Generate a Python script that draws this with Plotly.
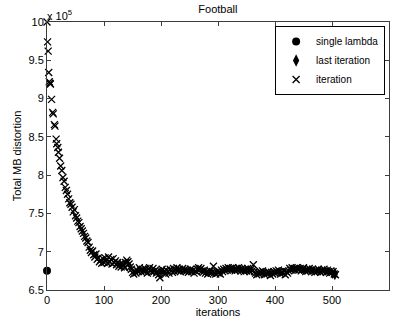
import plotly.graph_objects as go

# ---- data (distortion in units of 1e5) ----
early_iter = [0, 1, 2, 3, 4, 5, 6, 8, 10, 11, 13, 14, 16, 17, 19, 20]
early_val = [10.0, 9.74, 9.62, 9.34, 9.22, 9.20, 9.19, 8.99, 8.82, 8.80,
             8.66, 8.64, 8.47, 8.41, 8.36, 8.30]

main_iter = list(range(22, 507, 2))
main_val = [
    8.22, 8.12, 8.06, 7.97, 7.92, 7.84, 7.80, 7.75, 7.69, 7.64,
    7.62, 7.58, 7.52, 7.55, 7.47, 7.44, 7.40, 7.38, 7.33, 7.30,
    7.27, 7.24, 7.20, 7.18, 7.14, 7.12, 7.06, 7.02, 6.99, 7.01,
    6.96, 6.93, 6.97, 6.90, 6.92, 6.87, 6.89, 6.85, 6.91, 6.86,
    6.92, 6.88, 6.85, 6.93, 6.87, 6.90, 6.84, 6.91, 6.86, 6.88,
    6.83, 6.86, 6.81, 6.84, 6.80, 6.85, 6.82, 6.79, 6.86, 6.89,
    6.87, 6.84, 6.80, 6.77, 6.73, 6.71, 6.75, 6.72, 6.76, 6.74,
    6.79, 6.76, 6.73, 6.77, 6.74, 6.78, 6.75, 6.72, 6.77, 6.79,
    6.75, 6.73, 6.78, 6.74, 6.76, 6.72, 6.75, 6.70, 6.66, 6.74,
    6.77, 6.73, 6.75, 6.71, 6.76, 6.74, 6.72, 6.77, 6.75, 6.73,
    6.78, 6.74, 6.76, 6.79, 6.75, 6.77, 6.74, 6.76, 6.78, 6.75,
    6.77, 6.74, 6.76, 6.73, 6.75, 6.77, 6.74, 6.76, 6.72, 6.75,
    6.74, 6.77, 6.79, 6.76, 6.78, 6.75, 6.73, 6.76, 6.72, 6.74,
    6.71, 6.73, 6.75, 6.72, 6.74, 6.81, 6.73, 6.71, 6.74, 6.72,
    6.74, 6.71, 6.76, 6.74, 6.77, 6.75, 6.78, 6.76, 6.79, 6.77,
    6.78, 6.76, 6.79, 6.77, 6.75, 6.78, 6.76, 6.79, 6.77, 6.75,
    6.78, 6.76, 6.74, 6.77, 6.75, 6.78, 6.76, 6.74, 6.77, 6.75,
    6.83, 6.74, 6.72, 6.70, 6.73, 6.71, 6.74, 6.72, 6.75, 6.73,
    6.70, 6.73, 6.71, 6.74, 6.72, 6.69, 6.73, 6.71, 6.74, 6.72,
    6.75, 6.73, 6.76, 6.74, 6.71, 6.74, 6.72, 6.75, 6.70, 6.74,
    6.72, 6.75, 6.78, 6.76, 6.79, 6.77, 6.78, 6.76, 6.79, 6.77,
    6.76, 6.78, 6.75, 6.77, 6.79, 6.76, 6.74, 6.77, 6.75, 6.78,
    6.76, 6.74, 6.77, 6.75, 6.73, 6.76, 6.74, 6.77, 6.75, 6.73,
    6.76, 6.74, 6.77, 6.75, 6.73, 6.76, 6.74, 6.72, 6.75, 6.73,
    6.74, 6.71, 6.70,
]

single_lambda_iter = [0]
single_lambda_val = [6.75]
last_iter = [505]
last_val = [6.71]

x_ticks = [0, 100, 200, 300, 400, 500, 600]
y_ticks = [6.5, 7, 7.5, 8, 8.5, 9, 9.5, 10]
y_tick_labels = ["6.5", "7", "7.5", "8", "8.5", "9", "9.5", "10"]

FONT = "Liberation Sans, Arial, Helvetica, sans-serif"
AXC = "#3c3c3c"

fig = go.Figure()
fig.add_trace(go.Scatter(
    x=single_lambda_iter, y=single_lambda_val, mode="markers",
    name="single lambda",
    marker=dict(symbol="circle", size=8, color="black"),
    cliponaxis=False,
))
fig.add_trace(go.Scatter(
    x=last_iter, y=last_val, mode="markers", name="last iteration",
    marker=dict(symbol="diamond-tall", size=9, color="black"),
))
fig.add_trace(go.Scatter(
    x=early_iter + main_iter, y=early_val + main_val, mode="markers",
    name="iteration",
    marker=dict(symbol="x-thin-open", size=7, color="black",
                line=dict(width=1.3, color="black")),
    cliponaxis=False,
))

fig.update_layout(
    width=394, height=320,
    margin=dict(l=47, r=5, t=22, b=30),
    paper_bgcolor="white", plot_bgcolor="white",
    font=dict(family=FONT, size=11, color="black"),
    title=dict(text="Football", x=0.553, xanchor="center", y=0.985,
               yanchor="top", font=dict(size=11)),
    showlegend=True,
    legend=dict(x=0.667, y=0.985, xanchor="left", yanchor="top",
                bgcolor="white", bordercolor="black", borderwidth=1,
                font=dict(size=10), tracegroupgap=0,
                itemwidth=30),
    xaxis=dict(range=[0, 600], tickvals=x_ticks, ticks="inside", ticklen=4,
               tickcolor=AXC, showline=True, linecolor=AXC, linewidth=1,
               mirror="ticks", showgrid=False, zeroline=False,
               title=dict(text="iterations", standoff=2, font=dict(size=11))),
    yaxis=dict(range=[6.5, 10], tickvals=y_ticks, ticktext=y_tick_labels,
               ticks="inside", ticklen=4, tickcolor=AXC, showline=True,
               linecolor=AXC, linewidth=1, mirror="ticks", showgrid=False,
               zeroline=False,
               title=dict(text="Total MB distortion", standoff=4,
                          font=dict(size=11))),
)

fig.add_annotation(
    text="x 10<sup>5</sup>", xref="paper", yref="paper", x=0, y=1,
    xanchor="left", yanchor="bottom", showarrow=False,
    font=dict(size=11), xshift=-2, yshift=-2,
)

fig.write_html("out.html",
               config={"displayModeBar": False},
               post_script="document.body.style.margin='0';"
                           "document.body.style.overflow='hidden';")
